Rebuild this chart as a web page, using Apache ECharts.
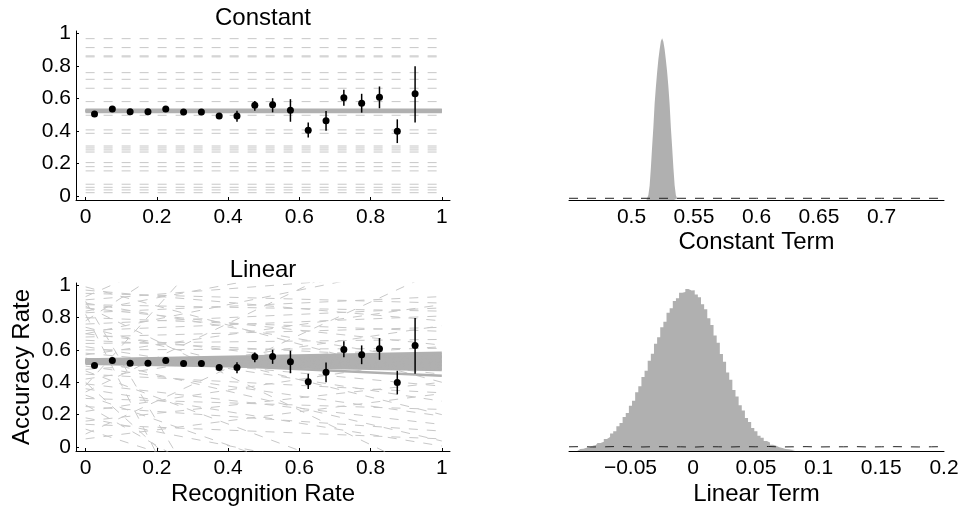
<!DOCTYPE html>
<html>
<head>
<meta charset="utf-8">
<script src="https://cdn.jsdelivr.net/npm/echarts@6/dist/echarts.min.js"></script>
<style>
  html, body { margin: 0; padding: 0; background: #ffffff; }
  #chart { width: 963px; height: 508px; }
</style>
</head>
<body>
<div id="chart"></div>
<script>
// Binned accuracy vs. recognition rate, with prior / posterior draws and
// posterior histograms for the constant and linear models.

const recognitionBins = [0.025, 0.075, 0.125, 0.175, 0.225, 0.275, 0.325, 0.375, 0.425, 0.475,
                         0.525, 0.575, 0.625, 0.675, 0.725, 0.775, 0.825, 0.875, 0.925];
const accuracyMean = [0.504, 0.535, 0.518, 0.518, 0.535, 0.516, 0.516, 0.491, 0.491, 0.558,
                      0.560, 0.527, 0.404, 0.462, 0.603, 0.570, 0.607, 0.398, 0.628];
const accuracyLow  = [0.497, 0.528, 0.511, 0.512, 0.529, 0.509, 0.509, 0.483, 0.456, 0.524,
                      0.514, 0.456, 0.359, 0.400, 0.555, 0.512, 0.539, 0.325, 0.452];
const accuracyHigh = [0.511, 0.542, 0.525, 0.524, 0.541, 0.523, 0.523, 0.499, 0.524, 0.584,
                      0.601, 0.595, 0.452, 0.522, 0.653, 0.628, 0.673, 0.471, 0.797];

// Constant model: prior draws (dashed) and posterior draws (solid band)
const constantPriorDraws = [0.967, 0.912, 0.861, 0.855, 0.758, 0.717, 0.662, 0.580, 0.496, 0.406,
                            0.385, 0.307, 0.295, 0.283, 0.270, 0.205, 0.180, 0.154, 0.072, 0.053,
                            0.037, 0.020];
const constantPosteriorDraws = [0.514, 0.517, 0.520, 0.522, 0.524, 0.526, 0.529, 0.532];

// Linear model: each draw is given by its value at recognition 0 and at recognition 1
const linearPriorAtZero = [0.91, 0.83, 0.95, 0.76, 0.88, 0.72, 0.97, 0.68, 0.80, 0.64,
                           0.86, 0.60, 0.70, 0.84, 0.93, 0.78, 0.90, 0.87, 0.82, 0.74,
                           0.66, 0.99, 0.58, 0.45, 0.62, 0.30, 0.50, 0.39, 0.25, 0.55,
                           0.36, 0.47, 0.18, 0.14, 0.11, 0.05, 0.40, 0.38, 0.34, 0.22,
                           0.08, 0.26, 0.42, 0.57, 0.70, 0.48, 0.16, 0.89, 0.32];
const linearPriorAtOne  = [1.08, 0.93, 0.89, 0.86, 0.84, 0.81, 0.78, 0.74, 0.715, 0.665,
                           0.63, 0.61, 1.15, 1.25, 1.90, 2.20, -2.80, -0.20, -3.50, 0.20,
                           0.55, 0.40, 0.376, 0.335, 0.283, 0.232, 0.191, 0.139, 0.098, 0.037,
                           0.006, -0.35, -0.25, 0.05, -0.60, 0.33, -1.60, 2.80, 1.40, 0.55,
                           1.10, -1.00, 0.75, 0.88, 0.45, 0.62, 0.40, 0.52, -0.45];
const linearPostAtZero = [0.515, 0.517, 0.519, 0.521, 0.523, 0.525, 0.527, 0.529, 0.531, 0.533,
                          0.535, 0.537, 0.539, 0.541, 0.543];
const linearPostAtOne  = [0.476, 0.484, 0.492, 0.500, 0.508, 0.516, 0.524, 0.532, 0.540, 0.548,
                          0.556, 0.564, 0.572, 0.582, 0.441];

// Posterior histograms
const constantHistStart = 0.513;
const constantHistWidth = 0.001;
const constantHistCounts = [16, 50, 140, 318, 530, 722, 955, 1118, 1265, 1392, 1488, 1570, 1600,
                            1565, 1492, 1386, 1270, 1124, 948, 716, 525, 322, 146, 46, 15];
const linearHistStart = -0.09;
const linearHistWidth = 0.0025;
const linearHistCounts = [12, 14, 20, 24, 33, 37, 50, 57, 74, 86, 109, 123, 153, 174, 211, 236,
                          281, 312, 364, 401, 458, 498, 559, 602, 664, 705, 767, 801, 856, 884,
                          930, 947, 981, 986, 1004, 994, 996, 969, 953, 909, 879, 822, 781, 716,
                          670, 601, 553, 486, 441, 378, 338, 284, 251, 205, 179, 143, 123, 95,
                          82, 62, 53, 39, 32, 23, 19, 13, 11, 7, 6];

// Prior density curves (dashed, same count scale as the histograms)
const constantPriorX = [0.45, 0.50, 0.55, 0.60, 0.65, 0.70, 0.75];
const constantPriorDensity = [17, 17, 17, 17, 17, 17, 17];
const linearPriorX = [-0.099, -0.09, -0.08, -0.07, -0.06, -0.05, -0.04, -0.03, -0.02, -0.01, 0.0,
                      0.01, 0.02, 0.03, 0.04, 0.05, 0.06, 0.07, 0.08, 0.09, 0.10, 0.11, 0.12,
                      0.13, 0.14, 0.15, 0.16, 0.17, 0.18, 0.19, 0.20];
const linearPriorDensity = [26, 27, 25, 26, 28, 26, 25, 27, 26, 26, 24, 27, 26, 25, 27, 26, 28,
                            25, 26, 27, 25, 26, 26, 27, 25, 26, 27, 26, 25, 26, 27];

// Tick labels
const rateTicks = [0, 0.2, 0.4, 0.6, 0.8, 1];
const constantTermTicks = [0.5, 0.55, 0.6, 0.65, 0.7];
const linearTermTicks = [-0.05, 0, 0.05, 0.1, 0.15, 0.2];

const FONT = '"Liberation Sans", Arial, Helvetica, sans-serif';
const INK = '#000000';
const PRIOR_GRAY = '#c8c8c8';
const POST_GRAY = '#b0b0b0';

const fmt = v => String(+(+v).toFixed(3)).replace('-', '\u2212');

function rateAxis(gridIndex, vertical) {
  return {
    gridIndex: gridIndex,
    type: 'value',
    min: vertical ? -0.025 : -0.027,
    max: vertical ? 1.014 : 1.023,
    axisLine: { show: true, onZero: false, lineStyle: { color: INK, width: 1 } },
    axisTick: { show: true, inside: true, length: 3, customValues: rateTicks, lineStyle: { color: INK } },
    axisLabel: { customValues: rateTicks, formatter: fmt, fontFamily: FONT, fontSize: 21, color: INK,
                 margin: vertical ? 5 : 7 },
    splitLine: { show: false }
  };
}

function termAxis(gridIndex, min, max, ticks) {
  return {
    gridIndex: gridIndex,
    type: 'value',
    min: min,
    max: max,
    axisLine: { show: true, onZero: false, lineStyle: { color: INK, width: 1 } },
    axisTick: { show: false },
    axisLabel: { customValues: ticks, formatter: fmt, fontFamily: FONT, fontSize: 21, color: INK, margin: 7 },
    splitLine: { show: false }
  };
}

function segment(axis, y0, y1, color, width, dashed, z) {
  return {
    type: 'line', xAxisIndex: axis, yAxisIndex: axis,
    data: [[0, y0], [1, y1]],
    symbol: 'none', silent: true, clip: true, z: z,
    lineStyle: { color: color, width: width, type: dashed ? [9, 9] : 'solid' }
  };
}

function dataSeries(axis) {
  const rows = recognitionBins.map((x, i) => [x, accuracyMean[i], accuracyLow[i], accuracyHigh[i]]);
  return [
    {
      type: 'custom', xAxisIndex: axis, yAxisIndex: axis, z: 5, silent: true,
      data: rows,
      encode: { x: 0, y: [2, 3] },
      renderItem: function (params, api) {
        const p1 = api.coord([api.value(0), api.value(2)]);
        const p2 = api.coord([api.value(0), api.value(3)]);
        return { type: 'line', shape: { x1: p1[0], y1: p1[1], x2: p2[0], y2: p2[1] },
                 style: { stroke: INK, lineWidth: 1.5 } };
      }
    },
    {
      type: 'scatter', xAxisIndex: axis, yAxisIndex: axis, z: 6, silent: true,
      data: rows.map(r => [r[0], r[1]]),
      symbol: 'circle', symbolSize: 7,
      itemStyle: { color: INK, opacity: 1 }
    }
  ];
}

function histSeries(axis, start, width, counts) {
  const pts = [[start - width, 0]];
  counts.forEach((c, i) => pts.push([start + i * width, c]));
  pts.push([start + counts.length * width, 0]);
  return {
    type: 'line', xAxisIndex: axis, yAxisIndex: axis, z: 2, silent: true,
    data: pts, step: 'middle', symbol: 'none',
    lineStyle: { width: 0, color: POST_GRAY },
    areaStyle: { color: POST_GRAY, opacity: 1 }
  };
}

function priorCurve(axis, xs, ys) {
  return {
    type: 'line', xAxisIndex: axis, yAxisIndex: axis, z: 3, silent: true,
    data: xs.map((x, i) => [x, ys[i]]), symbol: 'none',
    lineStyle: { color: '#222222', width: 1, type: [9, 9] }
  };
}

const series = [];
// Panel 0: constant model
constantPriorDraws.forEach(v => series.push(segment(0, v, v, PRIOR_GRAY, 1, true, 1)));
constantPosteriorDraws.forEach(v => series.push(segment(0, v, v, POST_GRAY, 2, false, 2)));
series.push(...dataSeries(0));
// Panel 1: linear model
linearPriorAtZero.forEach((v, i) => series.push(segment(1, v, linearPriorAtOne[i], PRIOR_GRAY, 1, true, 1)));
linearPostAtZero.forEach((v, i) => series.push(segment(1, v, linearPostAtOne[i], POST_GRAY, 2.5, false, 2)));
series.push(...dataSeries(1));
// Panel 2: constant term posterior
series.push(histSeries(2, constantHistStart, constantHistWidth, constantHistCounts));
series.push(priorCurve(2, constantPriorX, constantPriorDensity));
// Panel 3: linear term posterior
series.push(histSeries(3, linearHistStart, linearHistWidth, linearHistCounts));
series.push(priorCurve(3, linearPriorX, linearPriorDensity));

const nameStyle = { fontFamily: FONT, fontSize: 24, color: INK };

const xAxes = [
  rateAxis(0, false),
  Object.assign(rateAxis(1, false), { name: 'Recognition Rate', nameLocation: 'middle', nameGap: 31, nameTextStyle: nameStyle }),
  Object.assign(termAxis(2, 0.45, 0.75, constantTermTicks), { name: 'Constant Term', nameLocation: 'middle', nameGap: 30, nameTextStyle: nameStyle }),
  Object.assign(termAxis(3, -0.099, 0.2, linearTermTicks), { name: 'Linear Term', nameLocation: 'middle', nameGap: 31, nameTextStyle: nameStyle })
];
const yAxes = [
  rateAxis(0, true),
  Object.assign(rateAxis(1, true), { name: 'Accuracy Rate', nameLocation: 'middle', nameGap: 42, nameTextStyle: nameStyle }),
  { gridIndex: 2, type: 'value', min: 0, max: 1672, show: false },
  { gridIndex: 3, type: 'value', min: 0, max: 1041, show: false }
];

const chart = echarts.init(document.getElementById('chart'), null, { renderer: 'canvas' });
chart.setOption({
  animation: false,
  backgroundColor: '#ffffff',
  textStyle: { fontFamily: FONT },
  grid: [
    { left: 76, top: 31, width: 374, height: 169 },
    { left: 76, top: 283, width: 374, height: 168 },
    { left: 569, top: 31, width: 375, height: 169 },
    { left: 569, top: 283, width: 375, height: 168 }
  ],
  xAxis: xAxes,
  yAxis: yAxes,
  graphic: [
    { type: 'text', x: 263, y: 18, silent: true,
      style: { text: 'Constant', font: '24px ' + FONT, fill: INK, align: 'center', verticalAlign: 'middle' } },
    { type: 'text', x: 263, y: 270, silent: true,
      style: { text: 'Linear', font: '24px ' + FONT, fill: INK, align: 'center', verticalAlign: 'middle' } }
  ],
  series: series
});
</script>
</body>
</html>
